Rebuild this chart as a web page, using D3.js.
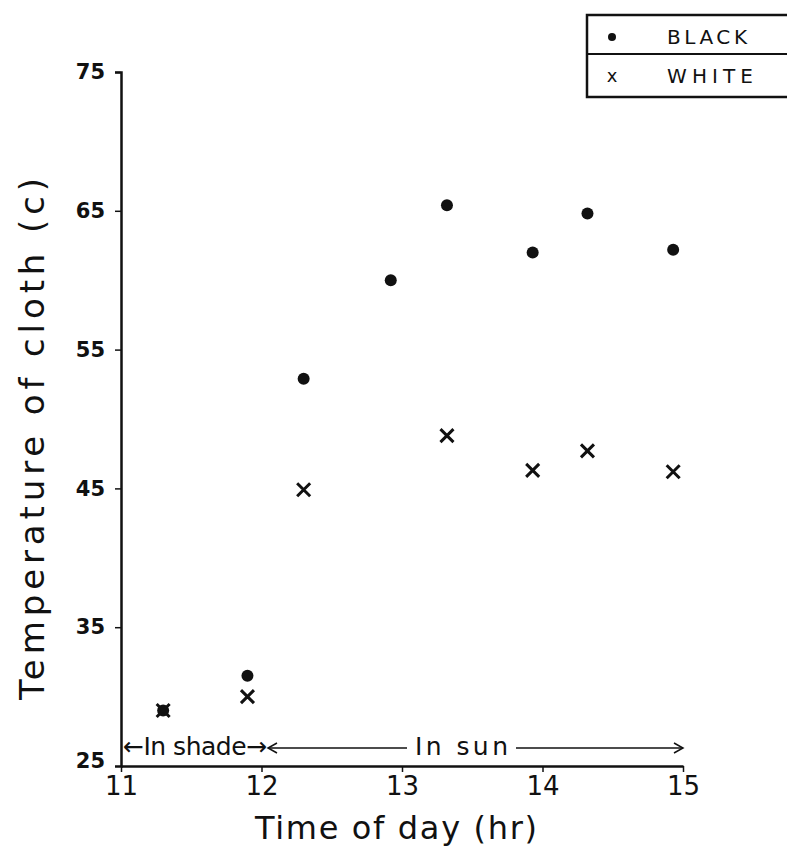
<!DOCTYPE html>
<html>
<head>
<meta charset="utf-8">
<script src="https://cdn.jsdelivr.net/npm/d3@7"></script>
<style>
body { margin:0; background:#fff; }
text { fill:#111; }
</style>
</head>
<body>
<div id="chart"></div>
<script>
// readings
var times = [11.3, 11.9, 12.3, 12.92, 13.32, 13.93, 14.32, 14.93]
var black = [29.0, 31.5, 52.9, 60.0, 65.4, 62.0, 64.8, 62.2]
var white = [29.0, 30.0, 44.9, null, 48.8, 46.3, 47.7, 46.2]
var xTicks = [11, 12, 13, 14, 15]
var yTicks = [25, 35, 45, 55, 65, 75]

var w = 787, h = 847
var svg = d3.select("#chart")
	.append("svg")
	.attr("width", w)
	.attr("height", h)

var x = d3.scaleLinear().domain([11, 15]).range([121, 683])
var y = d3.scaleLinear().domain([25, 75]).range([766, 72])

var ink = "#111"

// y axis
var yAxis = svg.append("g")
	.attr("transform", "translate(" + x(11) + ",0)")
	.call(d3.axisLeft(y).tickValues(yTicks).tickSize(6).tickPadding(10))
yAxis.select(".domain").attr("stroke", ink).attr("stroke-width", 2.5)
yAxis.selectAll(".tick line").attr("stroke", ink).attr("stroke-width", 1.5)
yAxis.selectAll(".tick").filter(function(d){ return d == 25 }).select("line").remove()
yAxis.selectAll("text")
	.style("font-family", "DejaVu Sans")
	.style("font-size", "21px")
	.style("font-weight", "bold")
	.attr("fill", "#222")
yAxis.selectAll(".tick").filter(function(d){ return d == 25 }).select("text").attr("dy", "0.05em")

// x axis
var xAxis = svg.append("g")
	.attr("transform", "translate(0," + y(25) + ")")
	.call(d3.axisBottom(x).tickValues(xTicks).tickFormat(d3.format("d")).tickSize(6).tickSizeOuter(0).tickPadding(5))
xAxis.select(".domain").attr("stroke", ink).attr("stroke-width", 2.5)
xAxis.selectAll(".tick line").attr("stroke", ink).attr("stroke-width", 1.5)
xAxis.selectAll("text")
	.style("font-family", "DejaVu Sans")
	.style("font-size", "26px")
	.attr("fill", ink)

// axis titles
svg.append("text")
	.attr("x", 255).attr("y", 839)
	.attr("textLength", 282)
	.style("font-family", "DejaVu Sans")
	.style("font-size", "32px")
	.text("Time of day (hr)")

svg.append("text")
	.attr("transform", "translate(44,700) rotate(-90)")
	.attr("textLength", 522)
	.style("font-family", "DejaVu Sans")
	.style("font-size", "34px")
	.text("Temperature of cloth (c)")

// shade / sun annotation
var ay = 748
svg.append("text")
	.attr("x", 123).attr("y", 755)
	.attr("textLength", 144)
	.style("font-family", "DejaVu Sans")
	.style("font-size", "25px")
	.text("\u2190In shade\u2192")
svg.append("line")
	.attr("x1", 268).attr("x2", 407)
	.attr("y1", ay).attr("y2", ay)
	.attr("stroke", ink).attr("stroke-width", 1.5)
svg.append("path")
	.attr("d", "M" + (268 + 9) + "," + (ay - 5) + "L" + 268 + "," + ay + "L" + (268 + 9) + "," + (ay + 5))
	.attr("fill", "none").attr("stroke", ink).attr("stroke-width", 1.5)
svg.append("text")
	.attr("x", 415).attr("y", 755)
	.attr("textLength", 93)
	.style("font-family", "DejaVu Sans")
	.style("font-size", "25px")
	.text("In sun")
svg.append("line")
	.attr("x1", 516).attr("x2", x(15))
	.attr("y1", ay).attr("y2", ay)
	.attr("stroke", ink).attr("stroke-width", 1.5)
svg.append("path")
	.attr("d", "M" + (x(15) - 9) + "," + (ay - 5) + "L" + x(15) + "," + ay + "L" + (x(15) - 9) + "," + (ay + 5))
	.attr("fill", "none").attr("stroke", ink).attr("stroke-width", 1.5)

// black cloth: dots
svg.selectAll("circle.black")
	.data(times.map(function(t, i){ return [t, black[i]] }))
	.enter().append("circle")
	.attr("class", "black")
	.attr("cx", function(d){ return x(d[0]) })
	.attr("cy", function(d){ return y(d[1]) })
	.attr("r", 6)
	.attr("fill", ink)

// white cloth: crosses
var cross = 6.5
svg.selectAll("path.white")
	.data(times.map(function(t, i){ return [t, white[i]] }).filter(function(d){ return d[1] != null }))
	.enter().append("path")
	.attr("class", "white")
	.attr("d", function(d){
		var cx = x(d[0]), cy = y(d[1])
		return "M" + (cx - cross) + "," + (cy - cross) + "L" + (cx + cross) + "," + (cy + cross) +
			"M" + (cx + cross) + "," + (cy - cross) + "L" + (cx - cross) + "," + (cy + cross)
	})
	.attr("stroke", ink)
	.attr("stroke-width", 3)
	.attr("fill", "none")

// legend
var lg = svg.append("g")
lg.append("rect")
	.attr("x", 587).attr("y", 15)
	.attr("width", 210).attr("height", 82)
	.attr("fill", "none").attr("stroke", ink).attr("stroke-width", 2.5)
lg.append("line")
	.attr("x1", 587).attr("x2", 787)
	.attr("y1", 54).attr("y2", 54)
	.attr("stroke", ink).attr("stroke-width", 2)
lg.append("circle")
	.attr("cx", 612).attr("cy", 37).attr("r", 4)
	.attr("fill", ink)
lg.append("text")
	.attr("x", 612).attr("y", 82)
	.attr("text-anchor", "middle")
	.style("font-family", "DejaVu Sans")
	.style("font-size", "18px")
	.text("x")
lg.append("text")
	.attr("x", 667).attr("y", 44)
	.attr("textLength", 80)
	.style("font-family", "DejaVu Sans")
	.style("font-size", "20px")
	.text("BLACK")
lg.append("text")
	.attr("x", 667).attr("y", 83)
	.attr("textLength", 86)
	.style("font-family", "DejaVu Sans")
	.style("font-size", "20px")
	.text("WHITE")
</script>
</body>
</html>
